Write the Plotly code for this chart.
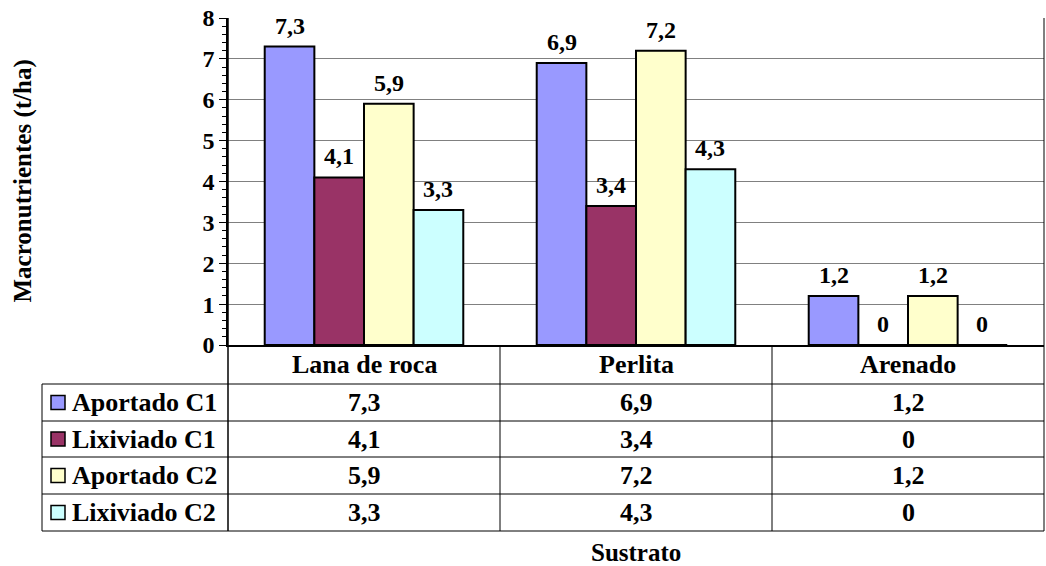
import plotly.graph_objects as go

categories = ["Lana de roca", "Perlita", "Arenado"]
series_names = ["Aportado C1", "Lixiviado C1", "Aportado C2", "Lixiviado C2"]
aportado_c1 = [7.3, 6.9, 1.2]
lixiviado_c1 = [4.1, 3.4, 0]
aportado_c2 = [5.9, 7.2, 1.2]
lixiviado_c2 = [3.3, 4.3, 0]
y_ticks = [0, 1, 2, 3, 4, 5, 6, 7, 8]

series_values = [aportado_c1, lixiviado_c1, aportado_c2, lixiviado_c2]
colors = ["#9999FF", "#993366", "#FFFFCC", "#CCFFFF"]

FONT = "Liberation Serif, Times New Roman, serif"
FS = 25
W, H = 1046, 566
L, R, T, B = 228, 1044, 18, 345  # plot area in pixels


def fmt(v):
    s = ("%.1f" % v).rstrip("0").rstrip(".")
    return s.replace(".", ",")


def px(x):
    return (x - L) / (R - L)


def py(y):
    return (B - y) / (B - T)


xs = list(range(len(categories)))
bargap = 0.27
n = len(series_values)
bw = (1 - bargap) / n

fig = go.Figure()
for name, vals, col in zip(series_names, series_values, colors):
    fig.add_trace(go.Bar(
        x=xs, y=vals, name=name,
        marker=dict(color=col, line=dict(color="black", width=2)),
        showlegend=False,
    ))

annotations = []
shapes = []
# data labels above bars
for k, vals in enumerate(series_values):
    off = (k - (n - 1) / 2) * bw
    for i, v in enumerate(vals):
        annotations.append(dict(
            x=xs[i] + off, y=v, xref="x", yref="y", text="<b>%s</b>" % fmt(v),
            showarrow=False, yshift=21, yanchor="middle",
            font=dict(family=FONT, size=24, color="black")))

# data table geometry (pixels)
row_lines = [384, 421, 457, 494, 531]
table_left = 42
header_center = (B + row_lines[0]) / 2

# category headers and values
for i, c in enumerate(categories):
    annotations.append(dict(
        x=xs[i], y=py(header_center), xref="x", yref="paper",
        text="<b>%s</b>" % c, showarrow=False, yanchor="middle",
        font=dict(family=FONT, size=FS + 1, color="black")))
    for k, vals in enumerate(series_values):
        yc = (row_lines[k] + row_lines[k + 1]) / 2
        annotations.append(dict(
            x=xs[i], y=py(yc), xref="x", yref="paper",
            text="<b>%s</b>" % fmt(vals[i]), showarrow=False, yanchor="middle",
            font=dict(family=FONT, size=FS + 1, color="black")))

# legend rows
for k, (name, col) in enumerate(zip(series_names, colors)):
    yc = (row_lines[k] + row_lines[k + 1]) / 2
    shapes.append(dict(type="rect", xref="paper", yref="paper",
                       x0=px(51), x1=px(65), y0=py(yc - 7), y1=py(yc + 7),
                       fillcolor=col, line=dict(color="black", width=1.5)))
    annotations.append(dict(
        x=px(70), y=py(yc), xref="paper", yref="paper",
        text="<b>%s</b>" % name, showarrow=False, xanchor="left", yanchor="middle",
        font=dict(family=FONT, size=FS + 1, color="black")))

# table lines
for yl in row_lines:
    shapes.append(dict(type="line", xref="paper", yref="paper",
                       x0=px(table_left), x1=1, y0=py(yl), y1=py(yl),
                       line=dict(color="black", width=1)))
shapes.append(dict(type="line", xref="paper", yref="paper",
                   x0=px(table_left), x1=px(table_left), y0=py(row_lines[0]), y1=py(row_lines[-1]),
                   line=dict(color="black", width=1)))
# vertical separators between categories
for i in range(1, len(categories)):
    shapes.append(dict(type="line", xref="x", yref="paper",
                       x0=i - 0.5, x1=i - 0.5, y0=0, y1=py(row_lines[-1]),
                       line=dict(color="black", width=1)))
# left axis extended through table, right border
shapes.append(dict(type="line", xref="paper", yref="paper",
                   x0=0, x1=0, y0=1, y1=py(row_lines[-1]),
                   line=dict(color="black", width=1.5)))
shapes.append(dict(type="line", xref="paper", yref="paper",
                   x0=1, x1=1, y0=1, y1=py(row_lines[-1]),
                   line=dict(color="black", width=1)))

# axis titles
annotations.append(dict(
    x=px(636), y=py(552), xref="paper", yref="paper", text="<b>Sustrato</b>",
    showarrow=False, yanchor="middle",
    font=dict(family=FONT, size=FS, color="black")))
annotations.append(dict(
    x=px(22), y=0.5, xref="paper", yref="paper", text="<b>Macronutrientes (t/ha)</b>",
    showarrow=False, textangle=-90, xanchor="center", yanchor="middle",
    font=dict(family=FONT, size=FS, color="black")))

fig.update_layout(
    width=W, height=H,
    margin=dict(l=L, r=W - R, t=T, b=H - B, pad=0),
    paper_bgcolor="white", plot_bgcolor="white",
    barmode="group", bargap=bargap, bargroupgap=0,
    annotations=annotations, shapes=shapes,
    font=dict(family=FONT, color="black"),
)
fig.update_xaxes(range=[-0.5, len(categories) - 0.5], tickvals=xs,
                 showticklabels=False, ticks="", showgrid=False, zeroline=False,
                 showline=True, linecolor="black", linewidth=1.5)
fig.update_yaxes(range=[0, 8], tickvals=y_ticks, ticks="outside", ticklen=7,
                 tickcolor="black", tickwidth=1,
                 minor=dict(dtick=0.2, ticks="outside", ticklen=4, tickcolor="black", showgrid=False),
                 showgrid=True, gridcolor="#808080", gridwidth=1, zeroline=False,
                 showline=True, linecolor="black", linewidth=1.5,
                 tickfont=dict(family=FONT, size=24, color="black", weight="bold"))

fig.write_html("out.html", config={"displayModeBar": False},
               post_script="document.body.style.margin='0px';")
